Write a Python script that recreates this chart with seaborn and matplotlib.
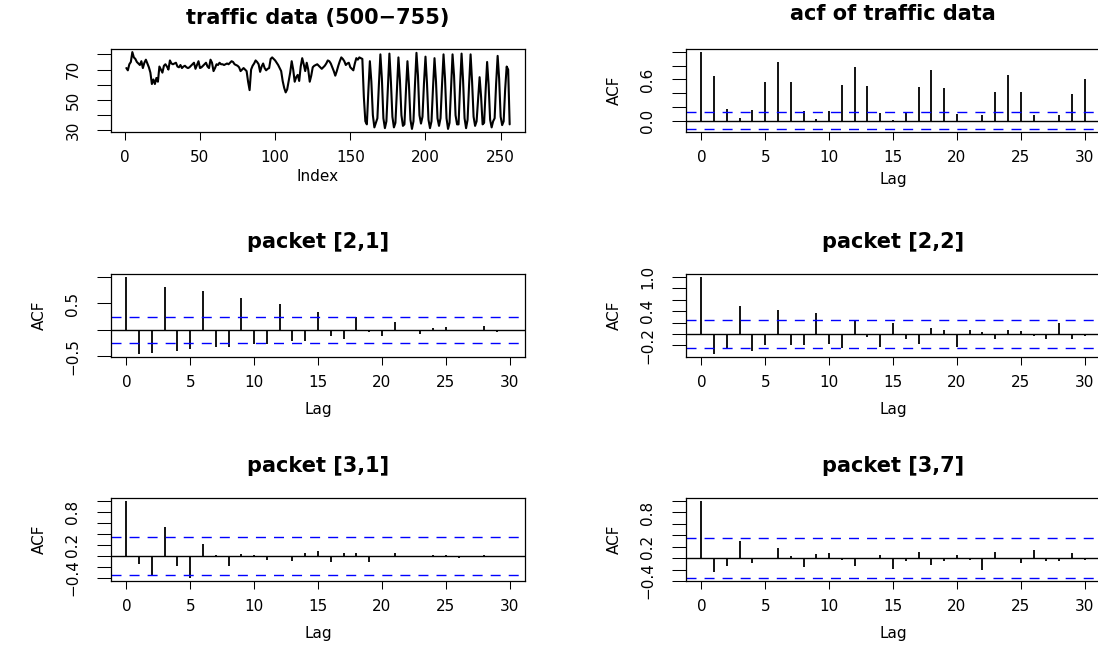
import numpy as np
import pandas as pd
import matplotlib
matplotlib.use("Agg")
import matplotlib.pyplot as plt
import seaborn as sns

# traffic series, observations 500-755 (plotted against index 1..256)
traffic = [
    71, 69.5, 73.5, 75, 81.5, 78, 77, 75, 74, 73,
    75.5, 71, 74.5, 76.5, 74, 71.5, 68, 60.5, 63.5, 60.5,
    64.5, 62, 72, 70, 68, 72.5, 73.5, 72, 70, 76,
    74, 73.5, 74, 74.5, 72, 71.5, 73, 71, 72, 72.5,
    71.5, 71, 71.5, 72.5, 73.5, 74.5, 70.5, 73, 75.5, 71,
    71.5, 72.5, 73.5, 74.5, 72, 71, 76.5, 74.5, 69, 71,
    73.5, 73, 74.5, 73.5, 73.5, 73, 73.5, 74, 73.5, 74.5,
    75.5, 75, 73.5, 73, 72.5, 71.5, 69, 70, 71, 70,
    69, 62, 56.5, 70, 72.5, 74, 76, 75, 73.5, 68.5,
    72, 74, 71, 69.5, 70.5, 71, 77, 78, 77, 76,
    74.5, 73, 71, 69, 62.5, 58, 55, 57, 62.5, 68,
    75.5, 70, 62, 65, 66.5, 62.5, 72, 77.5, 73.5, 69,
    74.5, 70, 62, 66, 71.5, 72.5, 73, 73.5, 72.5, 71.5,
    70.5, 71.5, 72.5, 74, 76, 75.5, 74, 71.5, 69, 66,
    69, 72.5, 75.5, 78, 77, 75.5, 73, 74, 74.5, 71.5,
    70.5, 69.5, 74, 77.5, 76.5, 78, 77.5, 77,
    52, 36, 34, 56, 75.5, 62, 40, 32, 35, 38,
    60, 80, 64, 38, 31.5, 36, 58, 80.5, 62, 39,
    32, 35, 57, 78, 63, 40, 33, 34, 56, 75.5,
    60, 37, 31, 36, 60, 81, 66, 40, 34.5, 39,
    61, 78.5, 61, 37, 31.5, 36, 58, 77.5, 62, 38,
    33, 38, 60, 80, 64, 38, 31, 35, 58, 80,
    66, 40, 34, 34, 59, 80.5, 63, 38, 31.5, 37,
    60, 80, 62, 39, 33, 36, 50, 65, 52, 34,
    35, 56, 75, 60, 37, 32, 36, 38, 61, 79,
    64, 39, 33.5, 36, 57, 72, 70, 34,
]

lags = list(range(31))
acf_traffic = [1.0, 0.644, 0.17, 0.034, 0.15, 0.56, 0.854, 0.556, 0.137, 0.02, 0.14,
               0.517, 0.776, 0.498, 0.107, 0.005, 0.12, 0.483, 0.737, 0.468, 0.098,
               -0.005, 0.088, 0.424, 0.668, 0.424, 0.078, -0.02, 0.078, 0.385, 0.6]
acf_p21 = [1.0, -0.456, -0.43, 0.82, -0.40, -0.37, 0.73, -0.33, -0.325, 0.61, -0.275,
           -0.27, 0.49, -0.21, -0.21, 0.34, -0.12, -0.175, 0.24, -0.04, -0.125,
           0.14, -0.01, -0.075, 0.03, 0.056, -0.03, -0.03, 0.07, -0.045, -0.02]
acf_p22 = [1.0, -0.35, -0.25, 0.49, -0.29, -0.195, 0.425, -0.20, -0.19, 0.37, -0.17,
           -0.25, 0.236, -0.046, -0.22, 0.195, -0.08, -0.18, 0.10, 0.063, -0.224,
           0.075, 0.04, -0.092, 0.075, 0.05, -0.03, -0.08, 0.195, -0.092, -0.04]
acf_p31 = [1.0, -0.14, -0.34, 0.53, -0.19, -0.40, 0.22, 0.02, -0.18, 0.035, 0.01,
           -0.066, -0.02, -0.10, 0.06, 0.085, -0.11, 0.05, 0.06, -0.115, -0.01,
           0.05, -0.005, -0.02, 0.01, 0.01, -0.03, 0.005, 0.01, -0.01, -0.005]
acf_p37 = [1.0, -0.243, -0.133, 0.295, -0.08, -0.023, 0.18, 0.035, -0.15, 0.064, 0.092,
           -0.04, -0.133, -0.017, 0.052, -0.19, -0.046, 0.104, -0.116, -0.052, 0.058,
           -0.035, -0.214, 0.11, -0.017, -0.092, 0.15, -0.052, -0.058, 0.092, -0.035]

# series length behind each acf (sets the 95% band)
n_traffic, n_level2, n_level3 = 256, 64, 32

sns.set_style("ticks")
plt.rcParams["font.family"] = ["DejaVu Sans"]
plt.rcParams["axes.linewidth"] = 0.9
plt.rcParams["axes.edgecolor"] = "black"
plt.rcParams["text.color"] = "black"
plt.rcParams["axes.labelcolor"] = "black"
plt.rcParams["xtick.color"] = "black"
plt.rcParams["ytick.color"] = "black"

fig = plt.figure(figsize=(10.98, 6.47), dpi=100)

FW, FH = 1098, 647
COLX = [111 / FW, 686 / FW]
AW = 414 / FW
AH = 83 / FH
ROWY = [1 - 132 / FH, 1 - 357 / FH, 1 - 581 / FH]

TICK_FS = 11
TITLE_FS = 15


def fmt(v):
    return f"{v:.1f}".replace("-", "\u2212")


def style(ax):
    for s in ax.spines.values():
        s.set_visible(True)
        s.set_linewidth(0.9)
        s.set_color("black")
    ax.tick_params(axis="x", length=5.8, width=0.75, pad=7, labelsize=TICK_FS,
                   direction="out", colors="black")
    ax.tick_params(axis="y", length=10, width=0.75, pad=12, labelsize=TICK_FS,
                   direction="out", labelrotation=90, colors="black")
    for lab in ax.get_yticklabels():
        lab.set_va("center")
    ax.grid(False)


def set_yticks(ax, ticks, shown):
    ax.set_yticks(ticks)
    labels = [fmt(t) if any(abs(t - s) < 1e-9 for s in shown) else "" for t in ticks]
    ax.set_yticklabels(labels)


def acf_panel(pos, vals, n, title, yticks, shown, title_pad=19, xpad=9):
    ax = fig.add_axes([COLX[pos[1]], ROWY[pos[0]], AW, AH])
    clim = 1.96 / np.sqrt(n)
    ax.vlines(lags, 0, vals, color="black", lw=1.3)
    ax.axhline(0, color="black", lw=1.0)
    for c in (clim, -clim):
        ax.axhline(c, color="blue", lw=1.0, ls=(0, (7.2, 5.8)))
    # R-style 4% extension of the data range
    x0, x1 = min(lags), max(lags)
    ax.set_xlim(x0 - 0.04 * (x1 - x0), x1 + 0.04 * (x1 - x0))
    y0 = min(min(vals), -clim)
    y1 = max(max(vals), clim)
    ax.set_ylim(y0 - 0.04 * (y1 - y0), y1 + 0.04 * (y1 - y0))
    ax.set_xticks(range(0, 31, 5))
    set_yticks(ax, yticks, shown)
    ax.set_xlabel("Lag", fontsize=TICK_FS, labelpad=xpad)
    ax.set_ylabel("ACF", fontsize=TICK_FS)
    ax.yaxis.set_label_coords(-0.155, 0.5)
    ax.set_title(title, fontsize=TITLE_FS, fontweight="bold", pad=title_pad)
    style(ax)
    return ax


# time series panel
ax = fig.add_axes([COLX[0], ROWY[0], AW, AH])
df = pd.DataFrame({"Index": np.arange(1, len(traffic) + 1), "value": traffic})
sns.lineplot(data=df, x="Index", y="value", ax=ax, color="black", lw=1.5)
ax.margins(x=0.04, y=0.04)
ax.set_xticks(range(0, 251, 50))
ax.set_yticks(range(30, 81, 10))
ax.set_yticklabels(["30", "", "50", "", "70", ""])
ax.set_xlabel("Index", fontsize=TICK_FS, labelpad=3)
ax.set_ylabel("")
ax.set_title("traffic data (500\u2212755)", fontsize=TITLE_FS, fontweight="bold", pad=18)
style(ax)

acf_panel((0, 1), acf_traffic, n_traffic, "acf of traffic data",
          np.arange(0, 1.01, 0.2), [0.0, 0.6], title_pad=21, xpad=5)
acf_panel((1, 0), acf_p21, n_level2, "packet [2,1]",
          [-0.5, 0.0, 0.5, 1.0], [-0.5, 0.5])
acf_panel((1, 1), acf_p22, n_level2, "packet [2,2]",
          np.arange(-0.2, 1.01, 0.2), [-0.2, 0.4, 1.0])
acf_panel((2, 0), acf_p31, n_level3, "packet [3,1]",
          np.arange(-0.4, 1.01, 0.2), [-0.4, 0.2, 0.8])
acf_panel((2, 1), acf_p37, n_level3, "packet [3,7]",
          np.arange(-0.4, 1.01, 0.2), [-0.4, 0.2, 0.8])

fig.savefig("out.png", dpi=100)
